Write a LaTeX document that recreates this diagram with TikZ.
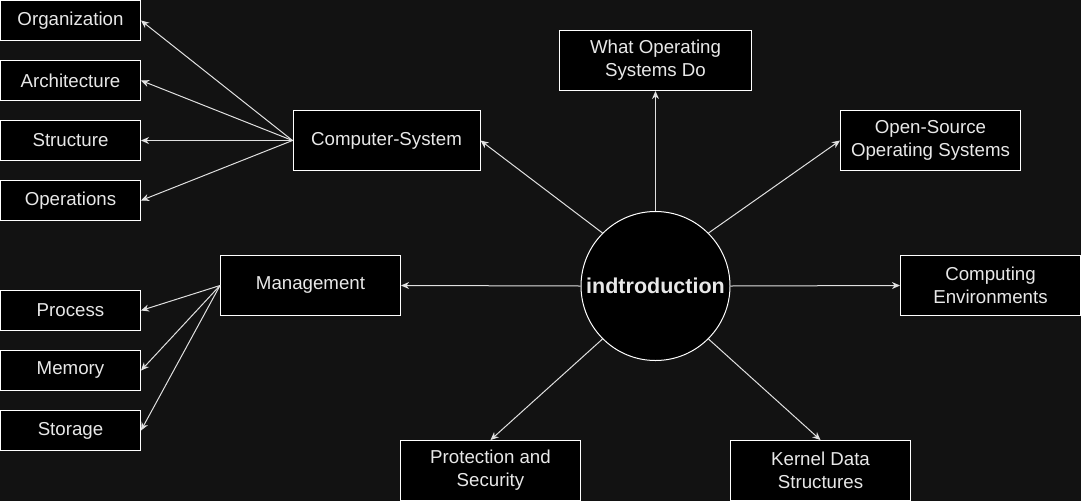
\documentclass[tikz,border=0pt]{standalone}
\usepackage{fontspec}
\setmainfont{Liberation Sans}
\usetikzlibrary{arrows.meta}
\definecolor{bg}{HTML}{121212}
\definecolor{txt}{HTML}{E8E8E8}
\definecolor{edge}{HTML}{E0E0E0}
\begin{document}
\begin{tikzpicture}[x=1pt,y=-1pt,
  box/.style={draw=white, fill=black, line width=1pt, text=txt,
    font=\fontsize{18.7}{23}\selectfont, align=center, inner sep=0pt,
    minimum width=140pt, minimum height=40pt},
  bigbox/.style={box, minimum width=180pt, minimum height=60pt},
  hub/.style={circle, draw=white, fill=black, line width=1pt, text=txt,
    font=\fontsize{21.5}{25}\selectfont\bfseries, minimum size=149pt, inner sep=0pt},
  arr/.style={draw=edge, line width=1pt, -{Stealth[length=8pt,width=7pt,inset=2.5pt]}}]
\fill[bg] (0,0) rectangle (1081,501);
\useasboundingbox (0,0) rectangle (1081,501);

\node[hub] (c) at (655.5,286) {indtroduction};

\node[box] (org) at (70.5,20.5) {Organization};
\node[box] (arch) at (70.5,80.5) {Architecture};
\node[box] (str) at (70.5,140.5) {Structure};
\node[box] (ops) at (70.5,200.5) {Operations};
\node[box] (proc) at (70.5,310.5) {Process};
\node[box] (mem) at (70.5,370.5) {Memory};
\node[box] (sto) at (70.5,430.5) {Storage};

\node[bigbox, minimum width=187pt] (cs) at (386.5,140.5) {Computer-System};
\node[bigbox] (mgmt) at (310.5,285.5) {Management};
\node[bigbox, minimum width=192pt] (what) at (655.5,60.5) {What Operating\\Systems Do};
\node[bigbox] (open) at (930.5,140.5) {Open-Source\\Operating Systems};
\node[bigbox] (env) at (990.5,285.5) {Computing\\Environments};
\node[bigbox] (kern) at (820.5,470.5) {Kernel Data\\Structures};
\node[bigbox] (prot) at (490.5,470.5) {Protection and\\Security};

\draw[arr] (c.135) -- (cs.east);
\draw[arr] (c.north) -- (what.south);
\draw[arr] (c.45) -- (open.west);
\draw[arr] (c.east) -- (env.west);
\draw[arr] (c.-45) -- (kern.north);
\draw[arr] (c.225) -- (prot.north);
\draw[arr] (c.west) -- (mgmt.east);

\draw[arr] (cs.west) -- (org.east);
\draw[arr] (cs.west) -- (arch.east);
\draw[arr] (cs.west) -- (str.east);
\draw[arr] (cs.west) -- (ops.east);

\draw[arr] (mgmt.west) -- (proc.east);
\draw[arr] (mgmt.west) -- (mem.east);
\draw[arr] (mgmt.west) -- (sto.east);
\end{tikzpicture}
\end{document}
